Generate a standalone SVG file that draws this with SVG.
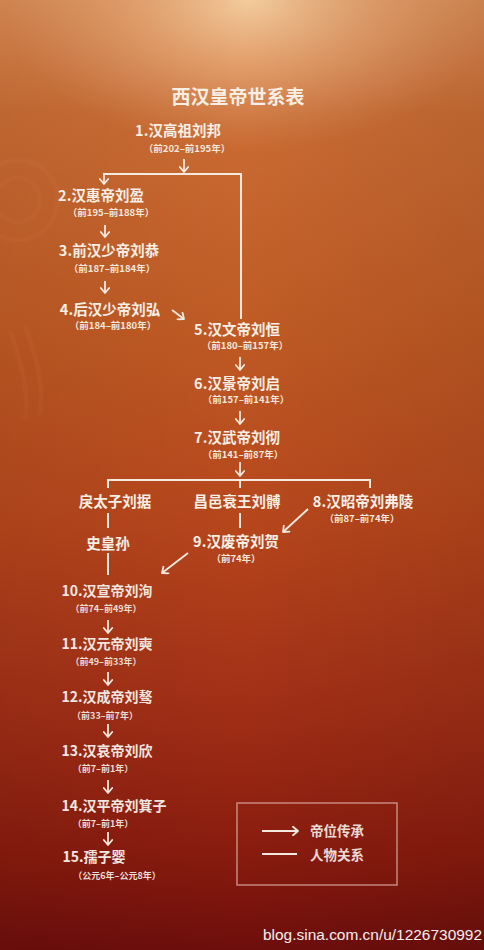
<svg xmlns="http://www.w3.org/2000/svg" width="484" height="950" viewBox="0 0 484 950">
  <defs>
    <linearGradient id="bg" x1="0" y1="0" x2="0" y2="1">
      <stop offset="0" stop-color="#dc8c54"/>
      <stop offset="0.12" stop-color="#ca6c34"/>
      <stop offset="0.35" stop-color="#bf5a24"/>
      <stop offset="0.55" stop-color="#b6461c"/>
      <stop offset="0.75" stop-color="#a02e16"/>
      <stop offset="0.9" stop-color="#881b0e"/>
      <stop offset="1" stop-color="#6e0e0c"/>
    </linearGradient>
    <radialGradient id="glow" cx="250" cy="0" r="250" gradientUnits="userSpaceOnUse" gradientTransform="translate(250 0) scale(1 0.6) translate(-250 0)">
      <stop offset="0" stop-color="#f4cfa0" stop-opacity="0.95"/>
      <stop offset="0.5" stop-color="#eab080" stop-opacity="0.55"/>
      <stop offset="1" stop-color="#e0a070" stop-opacity="0"/>
    </radialGradient>
    <linearGradient id="shade" x1="0" y1="0" x2="1" y2="0">
      <stop offset="0" stop-color="#000" stop-opacity="0.06"/>
      <stop offset="0.5" stop-color="#000" stop-opacity="0"/>
      <stop offset="1" stop-color="#000" stop-opacity="0.08"/>
    </linearGradient>
    <marker id="ah" viewBox="0 0 10 10" refX="6.5" refY="5" markerWidth="10" markerHeight="10" markerUnits="userSpaceOnUse" orient="auto">
      <path d="M1.5,0.8 L6.5,5 L1.5,9.2" fill="none" stroke="#f4eadf" stroke-width="1.8" stroke-linecap="round" stroke-linejoin="round"/>
    </marker>
  </defs>
  <style>
    .t { font-family: "Noto Sans CJK SC", "Noto Sans", sans-serif; fill: #f7efe5; text-anchor: middle; }
    .title { font-size: 19px; font-weight: 700; }
    .n { font-size: 14.5px; font-weight: 700; }
    .n2 { font-size: 14px; font-weight: 700; fill: #f2e6e0; }
    .d { font-size: 9.5px; font-weight: 700; fill: #f3e7dc; }
    .d2 { font-size: 9px; font-weight: 700; fill: #eadcd6; }
    .ln { fill: none; stroke: #f4eadf; stroke-width: 2; }
    .ar { fill: none; stroke: #f4eadf; stroke-width: 1.8; marker-end: url(#ah); }
    .lg { font-family: "Noto Sans CJK SC", "Noto Sans", sans-serif; font-size: 13.5px; font-weight: 700; fill: #eadad6; }
  </style>

  <rect x="0" y="0" width="484" height="950" fill="url(#bg)"/>
  <rect x="0" y="0" width="484" height="950" fill="url(#glow)"/>
  <rect x="0" y="0" width="484" height="950" fill="url(#shade)"/>
  <g fill="none" stroke="#e8a070" stroke-opacity="0.06" stroke-width="5">
    <circle cx="18" cy="200" r="22"/>
    <circle cx="18" cy="200" r="40"/>
    <path d="M10,330 C20,360 30,390 25,420"/>
    <path d="M25,325 C35,355 45,385 40,415"/>
  </g>

  <g id="title"><text class="t title" x="238" y="104">西汉皇帝世系表</text></g>

  <g id="n1"><text class="t n" x="178" y="136">1.汉高祖刘邦</text><text class="t d" x="187" y="152">（前202–前195年）</text></g>
  <g id="n2"><text class="t n" x="101" y="201">2.汉惠帝刘盈</text><text class="t d" x="111" y="216">（前195–前188年）</text></g>
  <g id="n3"><text class="t n" x="109" y="256">3.前汉少帝刘恭</text><text class="t d" x="112" y="272">（前187–前184年）</text></g>
  <g id="n4"><text class="t n" x="110" y="315">4.后汉少帝刘弘</text><text class="t d" x="113" y="329">（前184–前180年）</text></g>
  <g id="n5"><text class="t n" x="237" y="335">5.汉文帝刘恒</text><text class="t d" x="245" y="349">（前180–前157年）</text></g>
  <g id="n6"><text class="t n" x="237" y="389">6.汉景帝刘启</text><text class="t d" x="246" y="403">（前157–前141年）</text></g>
  <g id="n7"><text class="t n" x="237" y="443">7.汉武帝刘彻</text><text class="t d" x="243" y="458">（前141–前87年）</text></g>
  <g id="liutaizi"><text class="t n" x="115" y="507">戾太子刘据</text></g>
  <g id="changyi"><text class="t n" x="237" y="507">昌邑衰王刘髆</text></g>
  <g id="n8"><text class="t n" x="363" y="507">8.汉昭帝刘弗陵</text><text class="t d" x="362" y="522">（前87–前74年）</text></g>
  <g id="shihuangsun"><text class="t n" x="108" y="549">史皇孙</text></g>
  <g id="n9"><text class="t n" x="236" y="547">9.汉废帝刘贺</text><text class="t d" x="236" y="562">（前74年）</text></g>
  <g id="n10"><text class="t n2" x="107" y="596">10.汉宣帝刘洵</text><text class="t d2" x="106" y="612">（前74–前49年）</text></g>
  <g id="n11"><text class="t n2" x="107" y="649">11.汉元帝刘奭</text><text class="t d2" x="106" y="665">（前49–前33年）</text></g>
  <g id="n12"><text class="t n2" x="107" y="702">12.汉成帝刘骜</text><text class="t d2" x="105" y="719">（前33–前7年）</text></g>
  <g id="n13"><text class="t n2" x="107" y="756">13.汉哀帝刘欣</text><text class="t d2" x="103" y="772">（前7–前1年）</text></g>
  <g id="n14"><text class="t n2" x="114" y="811">14.汉平帝刘箕子</text><text class="t d2" x="103" y="827">（前7–前1年）</text></g>
  <g id="n15"><text class="t n2" x="94" y="862">15.孺子婴</text><text class="t d2" x="117" y="879">（公元6年–公元8年）</text></g>

  <g id="connectors">
    <path class="ar" d="M184,159 V172"/>
    <path class="ln" d="M241,319 V174 H104 V176"/>
    <path class="ar" d="M104,174 V184"/>
    <path class="ar" d="M105,225 V237"/>
    <path class="ar" d="M105,281 V293"/>
    <path class="ar" d="M172,310 L184,319"/>
    <path class="ar" d="M240,357 V370"/>
    <path class="ar" d="M240,411 V424"/>
    <path class="ar" d="M240,462 V476"/>
    <path class="ln" d="M108,488 V480 H370 V488 M240,480 V488"/>
    <path class="ln" d="M108,513 V528"/>
    <path class="ln" d="M240,513 V528"/>
    <path class="ln" d="M108,553 V575"/>
    <path class="ar" d="M308,509 L283,532"/>
    <path class="ar" d="M188,553 L162,573"/>
    <path class="ar" d="M108,620 V633"/>
    <path class="ar" d="M108,672 V685"/>
    <path class="ar" d="M108,724 V737"/>
    <path class="ar" d="M108,780 V793"/>
    <path class="ar" d="M108,832 V845"/>
  </g>

  <g id="legend">
    <rect x="237" y="803" width="160" height="82" fill="none" stroke="#d4a49c" stroke-opacity="0.8" stroke-width="1.5"/>
    <path class="ar" d="M262,831 H298"/>
    <text class="lg" x="310" y="836">帝位传承</text>
    <path class="ln" d="M262,854 H297"/>
    <text class="lg" x="310" y="860">人物关系</text>
  </g>

  <text x="263" y="940" font-family="Liberation Sans, Arial, sans-serif" font-size="14" fill="#f4eeee" textLength="219" lengthAdjust="spacingAndGlyphs">blog.sina.com.cn/u/1226730992</text>
</svg>
